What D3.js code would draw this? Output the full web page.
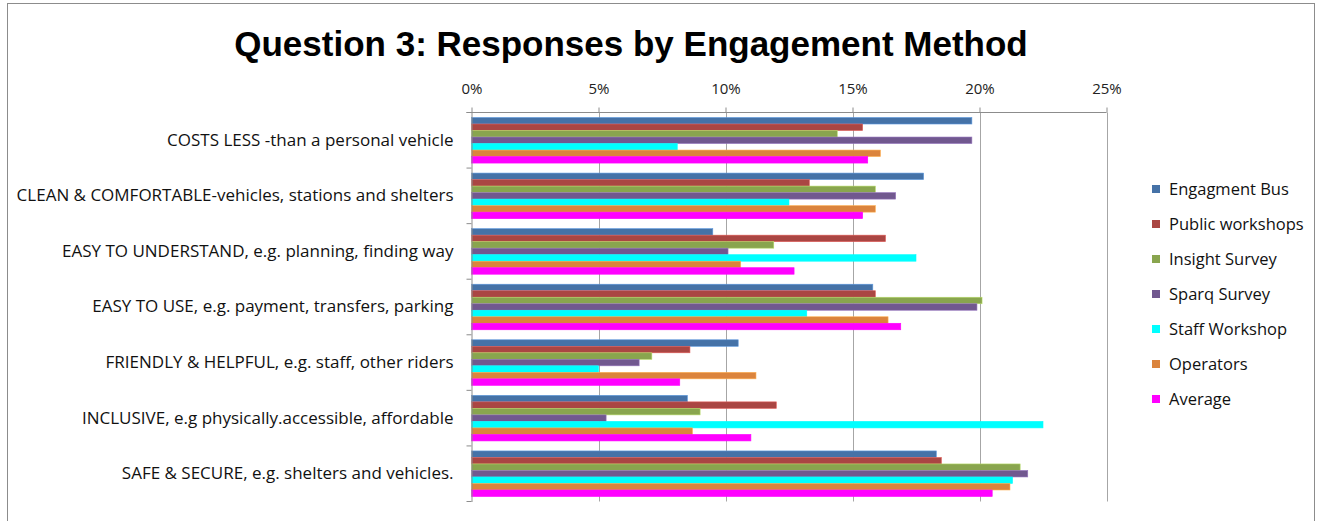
<!DOCTYPE html>
<html>
<head>
<meta charset="utf-8">
<script src="https://cdn.jsdelivr.net/npm/d3@7"></script>
<style>
  html, body { margin: 0; padding: 0; background: #fff; }
  svg { display: block; }
</style>
</head>
<body>
<svg id="chart" width="1325" height="521"></svg>
<script>
// Categories (top to bottom)
const categories = [
  "COSTS LESS -than a personal vehicle",
  "CLEAN & COMFORTABLE-vehicles, stations and shelters",
  "EASY TO UNDERSTAND, e.g. planning, finding way",
  "EASY TO USE, e.g. payment, transfers, parking",
  "FRIENDLY & HELPFUL, e.g. staff, other riders",
  "INCLUSIVE, e.g physically.accessible, affordable",
  "SAFE & SECURE, e.g. shelters and vehicles."
];

// Series names
const seriesNames = [
  "Engagment Bus",
  "Public workshops",
  "Insight Survey",
  "Sparq Survey",
  "Staff Workshop",
  "Operators",
  "Average"
];

// Share of responses (%) per category, one array per series
const engagmentBus     = [19.7, 17.8,  9.5, 15.8, 10.5,  8.5, 18.3];
const publicWorkshops  = [15.4, 13.3, 16.3, 15.9,  8.6, 12.0, 18.5];
const insightSurvey    = [14.4, 15.9, 11.9, 20.1,  7.1,  9.0, 21.6];
const sparqSurvey      = [19.7, 16.7, 10.1, 19.9,  6.6,  5.3, 21.9];
const staffWorkshop    = [ 8.1, 12.5, 17.5, 13.2,  5.0, 22.5, 21.3];
const operators        = [16.1, 15.9, 10.6, 16.4, 11.2,  8.7, 21.2];
const average          = [15.6, 15.4, 12.7, 16.9,  8.2, 11.0, 20.5];

const seriesValues = [engagmentBus, publicWorkshops, insightSurvey, sparqSurvey, staffWorkshop, operators, average];
const colors = ["#4572A7", "#AA4643", "#89A54E", "#71588F", "#00FFFF", "#DB843D", "#FF00FF"];
const tickValues = [0, 5, 10, 15, 20, 25];

const svg = d3.select("#chart");

// outer frame
svg.append("rect")
  .attr("x", 7.5).attr("y", 3.5)
  .attr("width", 1307).attr("height", 540)
  .attr("fill", "none").attr("stroke", "#8c8c8c").attr("stroke-width", 1);

// title
svg.append("text")
  .attr("x", 631).attr("y", 56)
  .attr("text-anchor", "middle")
  .attr("font-family", "'Liberation Sans', Arial, sans-serif")
  .attr("font-weight", "bold")
  .attr("font-size", 35)
  .attr("fill", "#000")
  .text("Question 3: Responses by Engagement Method");

const plot = { left: 471.5, right: 1106.5, top: 112.5, bottom: 501.5 };

const x = d3.scaleLinear().domain([0, 25]).range([plot.left, plot.right]);
const y = d3.scaleBand().domain(categories).range([plot.top, plot.bottom]).paddingInner(0.18).paddingOuter(0.09);
const ySeries = d3.scaleBand().domain(seriesNames).range([0, y.bandwidth()]);

const g = svg.append("g");

// vertical gridlines
g.selectAll("line.grid")
  .data(tickValues.slice(1))
  .join("line")
  .attr("class", "grid")
  .attr("x1", d => Math.round(x(d)) + 0.5).attr("x2", d => Math.round(x(d)) + 0.5)
  .attr("y1", plot.top).attr("y2", plot.bottom)
  .attr("stroke", "#a6a6a6").attr("stroke-width", 1);

// bars
const groups = g.selectAll("g.cat")
  .data(categories)
  .join("g")
  .attr("class", "cat")
  .attr("transform", d => `translate(0,${y(d)})`);

groups.selectAll("rect")
  .data((c, ci) => seriesNames.map((s, si) => ({ s, si, v: seriesValues[si][ci] })))
  .join("rect")
  .attr("x", x(0))
  .attr("y", d => ySeries(d.s))
  .attr("width", d => x(d.v) - x(0))
  .attr("height", ySeries.bandwidth())
  .attr("fill", d => colors[d.si])
  .attr("stroke", d => d3.color(colors[d.si]).brighter(0.8))
  .attr("stroke-width", 0.6);

// top axis
const xAxis = d3.axisTop(x)
  .tickValues(tickValues)
  .tickFormat(d => d + "%")
  .tickSizeOuter(0)
  .tickSize(5)
  .tickPadding(14);

const xg = svg.append("g")
  .attr("transform", `translate(0,${plot.top})`)
  .call(xAxis);
xg.select(".domain").attr("stroke", "#8c8c8c").attr("d", `M${plot.left - 5},0H${plot.right}`);
xg.selectAll(".tick line").attr("stroke", "#8c8c8c");
xg.selectAll(".tick text")
  .attr("font-family", "'Open Sans', sans-serif")
  .attr("font-size", 15)
  .attr("fill", "#222");

// left axis
const yAxis = d3.axisLeft(y).tickSize(0).tickPadding(18).tickSizeOuter(0);
const yg = svg.append("g")
  .attr("transform", `translate(${plot.left},0)`)
  .call(yAxis);
yg.select(".domain").attr("stroke", "#8c8c8c");
yg.selectAll(".tick text")
  .attr("font-family", "'Open Sans', sans-serif")
  .attr("font-size", 17)
  .attr("fill", "#111");

// category boundary ticks
const bounds = categories.map(c => y(c) - y.step() * y.paddingInner() / 2);
bounds[0] = plot.top;
bounds.push(plot.bottom);
yg.selectAll("line.btick")
  .data(bounds)
  .join("line")
  .attr("class", "btick")
  .attr("x1", -5).attr("x2", 0)
  .attr("y1", d => d).attr("y2", d => d)
  .attr("stroke", "#8c8c8c");

// legend
const legend = svg.append("g").attr("transform", "translate(1152,189)");
const li = legend.selectAll("g")
  .data(seriesNames)
  .join("g")
  .attr("transform", (d, i) => `translate(0,${i * 35})`);
li.append("rect")
  .attr("x", 0).attr("y", -4).attr("width", 8).attr("height", 8)
  .attr("fill", (d, i) => colors[i]);
li.append("text")
  .attr("x", 17).attr("y", 0).attr("dy", "0.35em")
  .attr("font-family", "'Open Sans', sans-serif")
  .attr("font-size", 16.5)
  .attr("fill", "#111")
  .text(d => d);
</script>
</body>
</html>
